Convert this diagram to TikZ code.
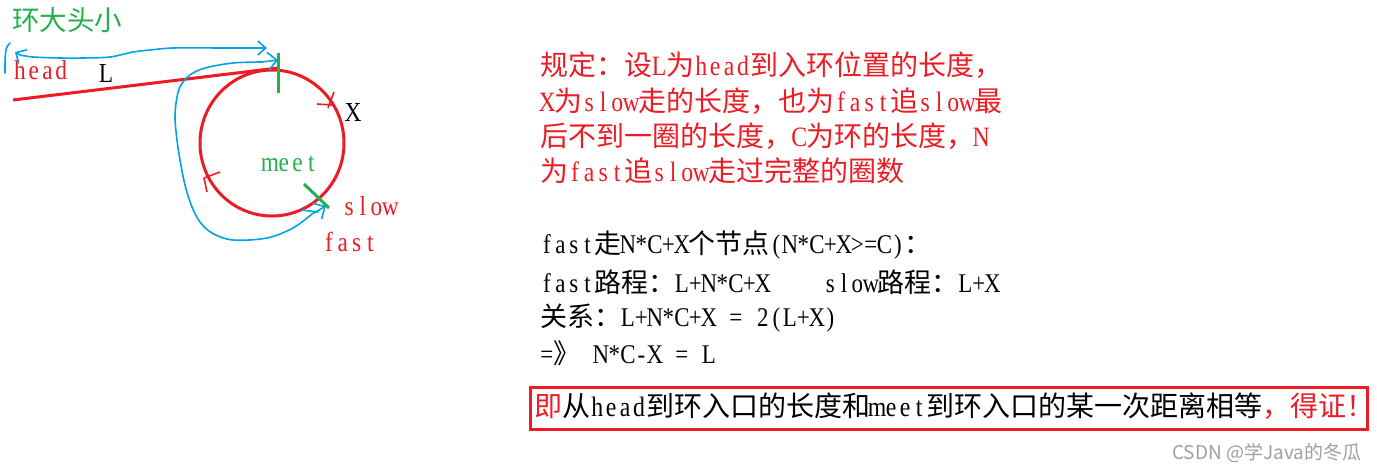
\documentclass[tikz,border=0pt]{standalone}
\usepackage{fontspec}
\setmainfont{Noto Sans CJK SC}
\newfontfamily\lsf[FakeStretch=0.85,Scale=1.0]{Liberation Serif}
\newdimen\halfw
\newcommand\la[1]{{\halfw=0.5em\relax\lsf\laloop#1\relax}}
\def\laloop#1{\ifx#1\relax\else\makebox[\halfw]{#1}\expandafter\laloop\fi}
\usetikzlibrary{arrows.meta}
\definecolor{pred}{HTML}{ED1C24}
\definecolor{pgreen}{HTML}{22B14C}
\definecolor{pblue}{HTML}{00A2E8}
\definecolor{wgray}{HTML}{A0A0A0}
\tikzset{
  txt/.style={anchor=west, inner sep=0pt},
  redtxt/.style={txt, text=pred},
  blktxt/.style={txt, text=black},
  grntxt/.style={txt, text=pgreen},
  redline/.style={draw=pred, line width=3pt},
  greenline/.style={draw=pgreen, line width=3pt},
  tick/.style={draw=pred, line width=1.6pt},
  hand/.style={draw=pblue, line width=1.6pt, line join=round, line cap=round},
}
\begin{document}
\begin{tikzpicture}[x=1pt, y=-1pt]
\useasboundingbox (0,0) rectangle (1377,474);
\fill[white] (0,0) rectangle (1377,474);

% ---------------- left diagram ----------------
\coordinate (lstart) at (13,100);
\coordinate (entry) at (278,68);
\coordinate (ctr) at (272,143);
\draw[redline] (lstart) -- (entry);
\draw[redline] (ctr) circle[x radius=72, y radius=73];

% green markers
\coordinate (g1a) at (278,53);
\coordinate (g1b) at (278,93);
\draw[greenline] (g1a) -- (g1b);
\coordinate (g2a) at (304,184);
\coordinate (g2b) at (329,208);
\draw[greenline] (g2a) -- (g2b);

% direction ticks on the circle
\coordinate (t1a) at (317,104);
\coordinate (t1b) at (332,105);
\coordinate (t1c) at (328,108);
\coordinate (t1d) at (334,92);
\draw[tick] (t1a) -- (t1b);
\draw[tick] (t1c) -- (t1d);
\coordinate (t2a) at (204,178);
\coordinate (t2b) at (220,172);
\coordinate (t2c) at (207,192);
\draw[tick] (t2a) -- (t2b);
\draw[tick] (t2a) -- (t2c);

% labels
\begin{scope}[font=\fontsize{27.5}{27.5}\selectfont]
\node[grntxt] (title) at (12,20) {环大头小};
\node[redtxt] (head) at (13,70) {\la{head}};
\node[blktxt] (Llab) at (99,73) {\la{L}};
\node[blktxt] (Xlab) at (346,112) {\la{X}};
\node[grntxt] (meet) at (263,164) {\la{meet}};
\node[redtxt] (slow) at (342,206) {\la{slow}};
\node[redtxt] (fast) at (322,242) {\la{fast}};
\end{scope}

% blue hand-drawn strokes
\coordinate (bl0) at (10,43);
\draw[hand] (bl0) .. controls (5,46) and (5,55) .. (5,73);
\coordinate (bA) at (15,52);
\coordinate (bB) at (267,48);
\draw[hand, {Straight Barb[length=8pt, width=16pt, line width=1.6pt]}-{Straight Barb[length=8pt, width=14pt, line width=1.6pt]}]
  (bA) -- plot[smooth, tension=0.5] coordinates {(20,55) (33,57) (60,58) (83,58) (110,57) (133,52) (150,50) (173,48) (220,48)} -- (bB);
\coordinate (cA) at (278,60);
\coordinate (cB) at (326,206);
\draw[hand, {Straight Barb[length=9pt, width=18pt, line width=1.6pt]}-{Straight Barb[length=9pt, width=18pt, line width=1.6pt]}]
  (cA) -- plot[smooth, tension=0.55] coordinates {(262,62) (233,63) (205,68) (190,75) (181,85) (177,97) (175,117) (177,140) (180,160) (185,185) (192,207) (200,222) (212,233) (233,240) (267,238) (293,228) (312,214)} -- (cB);
\coordinate (cC) at (302,210);
\draw[hand] (cC) -- (318,212);

% ---------------- right text ----------------
\begin{scope}[font=\fontsize{28}{28}\selectfont]
\node[redtxt] (r1) at (540,65) {规定：设\la{L}为\la{head}到入环位置的长度，};
\node[redtxt] (r2) at (540,101) {\la{X}为\la{slow}走的长度，也为\la{fast}追\la{slow}最};
\node[redtxt] (r3) at (540,136) {后不到一圈的长度，\la{C}为环的长度，\la{N}};
\node[redtxt] (r4) at (540,171) {为\la{fast}追\la{slow}走过完整的圈数};
\end{scope}
\begin{scope}[font=\fontsize{27}{27}\selectfont]
\node[blktxt] (b1) at (540,245) {\la{fast}走\la{N*C+X}个节点\la{(N*C+X>=C)}：};
\node[blktxt] (b2) at (540,282) {\la{fast}路程：\la{L+N*C+X~~~~slow}路程：\la{L+X}};
\node[blktxt] (b3) at (540,318) {关系：\la{L+N*C+X~=~2(L+X)}};
\node[blktxt] (b4) at (540,353) {\la{=}》\la{~N*C-X~=~L}};
\end{scope}

\node[draw=pred, line width=3pt, minimum width=837pt, minimum height=42pt, anchor=north west, inner sep=0pt] (box) at (529,386) {};
\node[blktxt, font=\fontsize{28}{28}\selectfont] (concl) at (534,406)
  {\textcolor{pred}{即}从\la{head}到环入口的长度和\la{meet}到环入口的某一次距离相等\textcolor{pred}{，得证！}};

\node[txt, text=wgray, font=\fontsize{19}{19}\selectfont] (wm) at (1172,453) {CSDN @学Java的冬瓜};
\end{tikzpicture}
\end{document}
